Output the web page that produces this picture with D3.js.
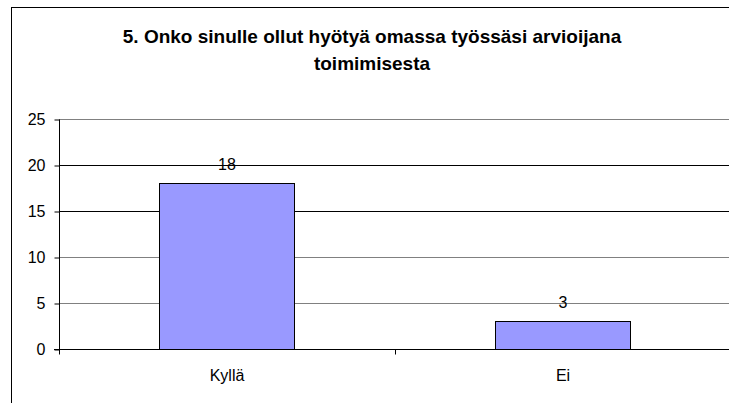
<!DOCTYPE html>
<html>
<head>
<meta charset="utf-8">
<script src="https://cdn.jsdelivr.net/npm/d3@7"></script>
<style>
  body { margin: 0; background: #fff; }
  text { font-family: "Liberation Sans", Arial, sans-serif; }
</style>
</head>
<body>
<svg width="729" height="403"></svg>
<script>
// chart data
var categories = ["Kyllä", "Ei"];
var values = [18, 3];
var yTicks = [0, 5, 10, 15, 20, 25];
var titleLines = ["5. Onko sinulle ollut hyötyä omassa työssäsi arvioijana", "toimimisesta"];

var svg = d3.select("svg"),
    width = +svg.attr("width"),
    height = +svg.attr("height");

// outer chart frame (runs off the right/bottom edge)
svg.append("rect")
    .attr("x", 11.5).attr("y", 7.5)
    .attr("width", 760).attr("height", 420)
    .attr("fill", "#fff").attr("stroke", "#000").attr("stroke-width", 1);

var title = svg.append("text")
    .attr("text-anchor", "middle")
    .attr("font-weight", "bold")
    .attr("font-size", 19);
title.selectAll("tspan")
    .data(titleLines)
    .enter().append("tspan")
    .attr("x", 372)
    .attr("y", function(d, i) { return 43 + i * 27; })
    .text(function(d) { return d; });

var plotLeft = 59, plotRight = 731, plotTop = 119, plotBottom = 349;

var x = d3.scaleBand()
    .domain(categories)
    .range([plotLeft, plotRight])
    .paddingInner(0.6).paddingOuter(0.3);

var y = d3.scaleLinear()
    .domain([0, 25])
    .range([plotBottom, plotTop]);

// gridlines
svg.append("g")
  .selectAll("line")
  .data(yTicks.filter(function(d) { return d > 0; }))
  .enter().append("line")
    .attr("x1", plotLeft).attr("x2", width)
    .attr("y1", function(d) { return Math.round(y(d)) + 0.5; })
    .attr("y2", function(d) { return Math.round(y(d)) + 0.5; })
    .attr("stroke", function(d, i) { return (d == 20 || d == 15) ? "#000" : "#808080"; })
    .attr("stroke-width", 1);

// bars
svg.append("g")
  .selectAll("rect")
  .data(values)
  .enter().append("rect")
    .attr("x", function(d, i) { return Math.round(x(categories[i])) - 0.5; })
    .attr("y", function(d) { return Math.round(y(d)) + 0.5; })
    .attr("width", Math.round(x.bandwidth()) + 1)
    .attr("height", function(d) { return plotBottom - Math.round(y(d)); })
    .attr("fill", "#9999ff")
    .attr("stroke", "#000").attr("stroke-width", 1);

// value labels
svg.append("g")
  .selectAll("text")
  .data(values)
  .enter().append("text")
    .attr("x", function(d, i) { return x(categories[i]) + x.bandwidth() / 2; })
    .attr("y", function(d) { return y(d) - 13; })
    .attr("text-anchor", "middle")
    .attr("font-size", 16)
    .text(function(d) { return d; });

// y axis
var yAxis = svg.append("g")
    .attr("transform", "translate(" + (plotLeft + 0.5) + ",0.5)")
    .call(d3.axisLeft(y).tickValues(yTicks).tickSize(5).tickPadding(9).tickFormat(d3.format("d")));
yAxis.select(".domain").attr("d", "M0," + Math.round(plotTop) + "V" + plotBottom).attr("stroke", "#000");
yAxis.selectAll(".tick line").attr("stroke", "#000");
yAxis.selectAll(".tick text").attr("font-size", 16).attr("fill", "#000").style("font-family", "'Liberation Sans', Arial, sans-serif");

// x axis
var xAxis = svg.append("g")
    .attr("transform", "translate(0," + (plotBottom + 0.5) + ")");
xAxis.append("line")
    .attr("x1", plotLeft - 5).attr("x2", width)
    .attr("stroke", "#000");
var catEdges = [plotLeft, (plotLeft + plotRight) / 2];
xAxis.selectAll(".sep")
  .data(catEdges)
  .enter().append("line")
    .attr("x1", function(d) { return Math.round(d) + 0.5; })
    .attr("x2", function(d) { return Math.round(d) + 0.5; })
    .attr("y1", 0).attr("y2", 5)
    .attr("stroke", "#000");
xAxis.selectAll(".cat")
  .data(categories)
  .enter().append("text")
    .attr("x", function(d) { return x(d) + x.bandwidth() / 2; })
    .attr("y", 31)
    .attr("text-anchor", "middle")
    .attr("font-size", 16)
    .text(function(d) { return d; });
</script>
</body>
</html>
